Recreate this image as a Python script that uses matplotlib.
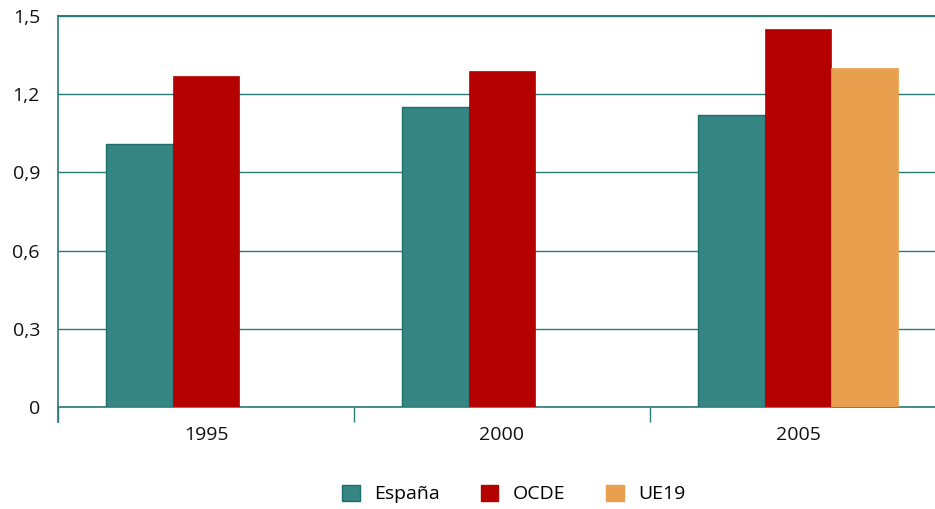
import matplotlib
matplotlib.use("Agg")
import matplotlib.pyplot as plt
import numpy as np
from matplotlib.patches import Patch

years = ["1995", "2000", "2005"]
espana = [1.01, 1.15, 1.12]
ocde = [1.27, 1.29, 1.45]
ue19 = [None, None, 1.30]
yticks = [0, 0.3, 0.6, 0.9, 1.2, 1.5]
ytick_labels = ["0", "0,3", "0,6", "0,9", "1,2", "1,5"]
series_names = ["España", "OCDE", "UE19"]

c_esp = "#358583"
c_esp_edge = "#1a6f6b"
c_ocde = "#b50000"
c_ue = "#e8a04f"
teal = "#2a7a77"

plt.rcParams['font.family'] = ['Open Sans', 'DejaVu Sans']

fig = plt.figure(figsize=(9.35, 5.09), dpi=100)
W, H = 935, 509
ax = fig.add_axes([58 / W, 1 - 407 / H, (946 - 58) / W, (407 - 16) / H])

x = np.arange(len(years))
w = 0.225
ax.bar(x - w, espana, w, color=c_esp, edgecolor=c_esp_edge, linewidth=1.0, zorder=3)
ax.bar(x, ocde, w, color=c_ocde, edgecolor=c_ocde, linewidth=0.5, zorder=3)
ue_x = [xi + w for xi, v in zip(x, ue19) if v is not None]
ue_v = [v for v in ue19 if v is not None]
ax.bar(ue_x, ue_v, w, color=c_ue, edgecolor=c_ue, linewidth=0.5, zorder=3)

ax.set_xlim(-0.5, len(years) - 0.5)
ax.set_ylim(0, 1.5)
ax.set_yticks(yticks)
ax.set_yticklabels(ytick_labels)
ax.grid(axis='y', color=teal, linewidth=1.0, zorder=0)
ax.set_axisbelow(True)

fs = 14
ax.set_xticks(x)
ax.set_xticklabels(years)
ax.set_xticks(np.arange(-0.5, len(years), 1.0), minor=True)
ax.tick_params(axis='x', which='major', length=0, pad=14, labelsize=fs, labelcolor='#111111')
ax.tick_params(axis='x', which='minor', length=10.5, width=1.0, color=teal)
ax.tick_params(axis='y', length=0, pad=13, labelsize=fs, labelcolor='#111111')

ax.spines['right'].set_visible(False)
ax.spines['top'].set_color(teal)
ax.spines['top'].set_linewidth(1.4)
ax.spines['bottom'].set_color(teal)
ax.spines['bottom'].set_linewidth(1.2)
ax.spines['left'].set_color(teal)
ax.spines['left'].set_linewidth(1.2)
ax.spines['left'].set_bounds(-0.057, 1.5)
ax.spines['left'].set_zorder(4)

handles = [Patch(facecolor=c_esp, edgecolor=c_esp_edge, linewidth=1.0),
           Patch(facecolor=c_ocde, edgecolor=c_ocde),
           Patch(facecolor=c_ue, edgecolor=c_ue)]
fig.legend(handles, series_names, loc='center', bbox_to_anchor=(514 / W, 1 - 494 / H),
           ncol=3, frameon=False, fontsize=fs, handlelength=0.9, handleheight=0.9,
           columnspacing=2.1, handletextpad=0.75, borderaxespad=0)

fig.savefig("out.png", dpi=100)
